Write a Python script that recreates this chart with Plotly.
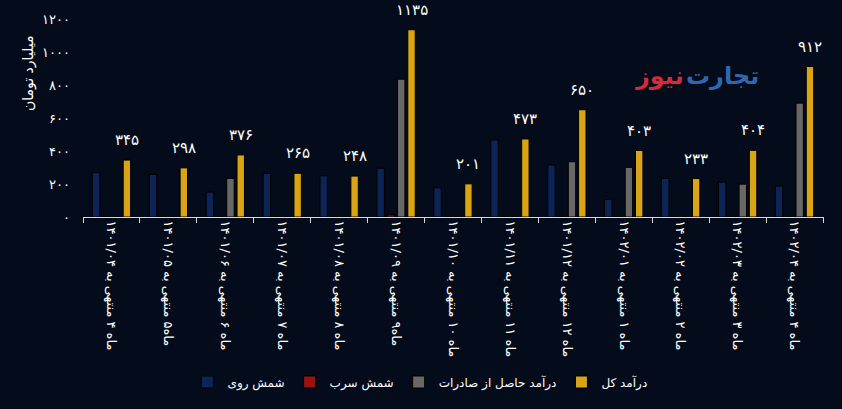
import plotly.graph_objects as go

# ---- data ----
categories = [
    "ماه ۴ منتهی به ۱۴۰۱/۰۴",
    "ماه۵ منتهی به ۱۴۰۱/۰۵",
    "ماه ۶ منتهی به ۱۴۰۱/۰۶",
    "ماه ۷ منتهی به ۱۴۰۱/۰۷",
    "ماه ۸ منتهی به ۱۴۰۱/۰۸",
    "ماه۹ منتهی به ۱۴۰۱/۰۹",
    "ماه ۱۰ منتهی به ۱۴۰۱/۱۰",
    "ماه ۱۱ منتهی به ۱۴۰۱/۱۱",
    "ماه ۱۲ منتهی به ۱۴۰۱/۱۲",
    "ماه ۱ منتهی به ۱۴۰۲/۰۱",
    "ماه ۲ منتهی به ۱۴۰۲/۰۲",
    "ماه ۳ منتهی به ۱۴۰۲/۰۳",
    "ماه ۴ منتهی به ۱۴۰۲/۰۴",
]
zinc_ingot = [270, 258, 151, 264, 250, 295, 177, 467, 315, 106, 234, 211, 187]
lead_ingot = [3, 3, 3, 3, 3, 12, 3, 3, 3, 3, 3, 3, 3]
export_revenue = [0, 0, 234, 0, 0, 835, 0, 0, 335, 301, 0, 199, 690]
total_revenue = [345, 298, 376, 265, 248, 1135, 201, 473, 650, 403, 233, 404, 912]

series_names = ["شمش روی", "شمش سرب", "درآمد حاصل از صادرات", "درآمد کل"]
y_tick_vals = [0, 200, 400, 600, 800, 1000, 1200]
y_title = "میلیارد تومان"
wm_blue = "تجارت"
wm_red = "نیوز"

FA = str.maketrans("0123456789", "۰۱۲۳۴۵۶۷۸۹")
def fa(n):
    return str(n).translate(FA)

# ---- style ----
BG = "#040b1a"
FONT = "DejaVu Sans"
colors = ["#0d2456", "#9b1111", "#686868", "#d9a514"]

fig = go.Figure()
for name, vals, col in zip(series_names,
                           [zinc_ingot, lead_ingot, export_revenue, total_revenue],
                           colors):
    fig.add_trace(go.Bar(
        x=categories, y=vals, name=name,
        marker=dict(color=col, line=dict(color="#000000", width=1)),
    ))

W, H = 842, 409
ml, mr, mt, mb = 83, 18, 19, 192
PW, PH = W - ml - mr, H - mt - mb
bargap = 0.277
n_groups = len(categories)
group_px = PW / n_groups
slot_px = group_px * (1 - bargap) / 4
yellow_shift = 1.5 * slot_px

def px_x(px):
    return (px - ml) / PW

def px_y(py):
    return (H - mb - py) / PH

annotations = []
for c, v in zip(categories, total_revenue):
    annotations.append(dict(
        x=c, y=v, xref="x", yref="y", text=fa(v), showarrow=False,
        xshift=yellow_shift, yshift=9, yanchor="bottom",
        font=dict(family=FONT, size=15, color="#ffffff"),
    ))

# y-axis title
annotations.append(dict(
    x=px_x(28), y=px_y(73), xref="paper", yref="paper",
    xanchor="center", yanchor="middle",
    text=y_title, textangle=-90, showarrow=False,
    font=dict(family=FONT, size=14, color="#ffffff"),
))
# watermark
annotations.append(dict(
    x=px_x(761), y=px_y(76), xref="paper", yref="paper",
    text="<b>" + wm_blue + "</b>", showarrow=False,
    xanchor="right", yanchor="middle",
    font=dict(family=FONT, size=24, color="#2e68b0"),
))
annotations.append(dict(
    x=px_x(686), y=px_y(76), xref="paper", yref="paper",
    text="<b>" + wm_red + "</b>", showarrow=False,
    xanchor="right", yanchor="middle",
    font=dict(family=FONT, size=24, color="#d42a3a"),
))

fig.update_layout(
    width=W, height=H,
    margin=dict(l=ml, r=mr, t=mt, b=mb, pad=0),
    paper_bgcolor=BG, plot_bgcolor=BG,
    barmode="group", bargap=bargap, bargroupgap=0.28,
    font=dict(family=FONT, color="#ffffff"),
    showlegend=True,
    legend=dict(
        orientation="h", x=px_x(420), xanchor="center",
        y=px_y(382), yanchor="middle",
        font=dict(family=FONT, size=12, color="#ffffff"),
        bgcolor="rgba(0,0,0,0)", traceorder="normal",
        itemwidth=30,
    ),
    xaxis=dict(
        type="category", tickangle=90, showgrid=False, zeroline=False,
        showline=True, linecolor="#d9d9d9", linewidth=1,
        ticks="outside", tickson="boundaries", ticklen=5, tickcolor="#d9d9d9",
        tickfont=dict(family=FONT, size=13, color="#ffffff"),
    ),
    yaxis=dict(
        range=[0, 1200], showgrid=False, zeroline=False, showline=False,
        tickvals=y_tick_vals, ticktext=[fa(v) for v in y_tick_vals],
        ticklabelstandoff=12,
        tickfont=dict(family=FONT, size=13, color="#ffffff"),
    ),
    annotations=annotations,
)

fig.write_html("out.html")
